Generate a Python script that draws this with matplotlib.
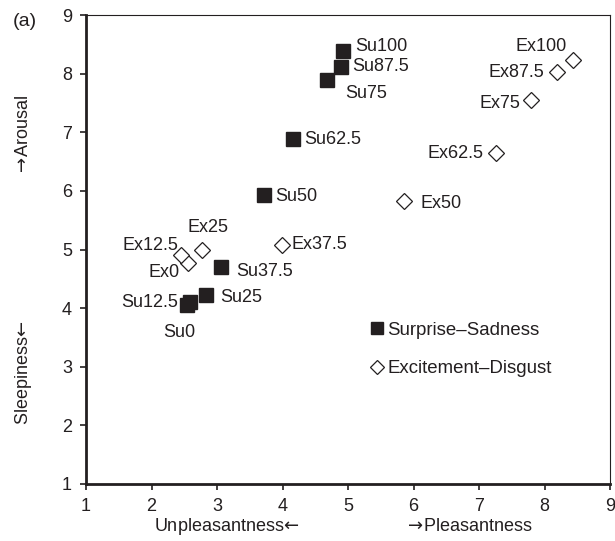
import matplotlib
matplotlib.use("Agg")
import matplotlib.pyplot as plt
from matplotlib.transforms import blended_transform_factory

plt.rcParams['font.family'] = ['Liberation Sans', 'DejaVu Sans']
plt.rcParams['mathtext.fontset'] = 'dejavusans'

# ---- data ----
su_labels = ['Su0', 'Su12.5', 'Su25', 'Su37.5', 'Su50', 'Su62.5', 'Su75', 'Su87.5', 'Su100']
su_x = [2.54, 2.59, 2.83, 3.06, 3.71, 4.16, 4.68, 4.90, 4.93]
su_y = [4.05, 4.11, 4.22, 4.70, 5.93, 6.88, 7.89, 8.12, 8.39]

ex_labels = ['Ex0', 'Ex12.5', 'Ex25', 'Ex37.5', 'Ex50', 'Ex62.5', 'Ex75', 'Ex87.5', 'Ex100']
ex_x = [2.56, 2.45, 2.77, 3.99, 5.85, 7.26, 7.79, 8.19, 8.43]
ex_y = [4.77, 4.90, 5.00, 5.08, 5.83, 6.65, 7.55, 8.02, 8.24]

series_names = ['Surprise\u2013Sadness', 'Excitement\u2013Disgust']
ticks = [1, 2, 3, 4, 5, 6, 7, 8, 9]

# ---- label layout (pixel offsets, alignment) ----
su_offsets = {
    'Su0': (-8, -27, 'center'), 'Su12.5': (-12, -1, 'right'), 'Su25': (14, -2, 'left'),
    'Su37.5': (15, -4, 'left'), 'Su50': (12, -2, 'left'), 'Su62.5': (11, 0, 'left'),
    'Su75': (18, -13, 'left'), 'Su87.5': (11, 0, 'left'), 'Su100': (12, 4, 'left'),
}
ex_offsets = {
    'Ex0': (-9, -10, 'right'), 'Ex12.5': (-3, 10, 'right'), 'Ex25': (6, 22, 'center'),
    'Ex37.5': (10, 0, 'left'), 'Ex50': (17, -3, 'left'), 'Ex62.5': (-13, -1, 'right'),
    'Ex75': (-10, -3, 'right'), 'Ex87.5': (-13, 0, 'right'), 'Ex100': (-6, 13, 'right'),
}

dark = '#231f20'
fs = 13

fig = plt.figure(figsize=(6.15, 5.41), dpi=100)
ax = fig.add_axes([86 / 615, 57 / 541, 524 / 615, 469 / 541])

ax.plot(su_x, su_y, linestyle='none', marker='s', markersize=9.4,
        markerfacecolor=dark, markeredgecolor=dark, label=series_names[0])
ax.plot(ex_x, ex_y, linestyle='none', marker='D', markersize=8.6,
        markerfacecolor='white', markeredgecolor=dark, markeredgewidth=0.9,
        label=series_names[1])

for lab, x, y in zip(su_labels, su_x, su_y):
    dx, dy, ha = su_offsets[lab]
    ax.annotate(lab, (x, y), xytext=(dx, dy), textcoords='offset pixels',
                ha=ha, va='center', fontsize=fs, color=dark)
for lab, x, y in zip(ex_labels, ex_x, ex_y):
    dx, dy, ha = ex_offsets[lab]
    ax.annotate(lab, (x, y), xytext=(dx, dy), textcoords='offset pixels',
                ha=ha, va='center', fontsize=fs, color=dark)

ax.set_xlim(1, 9)
ax.set_ylim(1, 9)
ax.set_xticks(ticks)
ax.set_yticks(ticks)
ax.set_xticklabels([str(t) for t in ticks])
ax.set_yticklabels([str(t) for t in ticks])
ax.tick_params(direction='out', length=4, width=1.2, color=dark,
               labelsize=fs, labelcolor=dark)
ax.tick_params(axis='x', pad=6)
ax.tick_params(axis='y', pad=6)

for side in ['left', 'bottom']:
    ax.spines[side].set_linewidth(2.0)
    ax.spines[side].set_color(dark)
for side in ['top', 'right']:
    ax.spines[side].set_linewidth(0.8)
    ax.spines[side].set_color(dark)

leg = ax.legend(loc='center left', bbox_to_anchor=(0.545, 0.2868), frameon=False,
                fontsize=fs + 0.4, handlelength=0.6, handletextpad=0.25, labelspacing=1.15,
                borderpad=0, borderaxespad=0, markerscale=0.85, numpoints=1)
for t in leg.get_texts():
    t.set_color(dark)

# axis labels
tx = blended_transform_factory(ax.transData, fig.transFigure)
ax.text(3.15, 1 - 531 / 541, r'Unpleasantness$\!{\leftarrow}$', transform=tx, ha='center',
        va='baseline', fontsize=fs, color=dark)
ax.text(6.84, 1 - 531 / 541, r'${\rightarrow}\!$Pleasantness', transform=tx, ha='center',
        va='baseline', fontsize=fs, color=dark)
ty = blended_transform_factory(fig.transFigure, ax.transData)
ax.text(24 / 615, 6.95, r'${\rightarrow}\!$Arousal', transform=ty, ha='center', va='center',
        rotation=90, fontsize=fs, color=dark)
ax.text(24 / 615, 2.9, r'Sleepiness$\!{\leftarrow}$', transform=ty, ha='center', va='center',
        rotation=90, fontsize=fs, color=dark)

fig.text(25 / 615, 1 - 22 / 541, '(a)', ha='center', va='center', fontsize=fs + 1, color=dark)

fig.savefig('out.png', dpi=100)
